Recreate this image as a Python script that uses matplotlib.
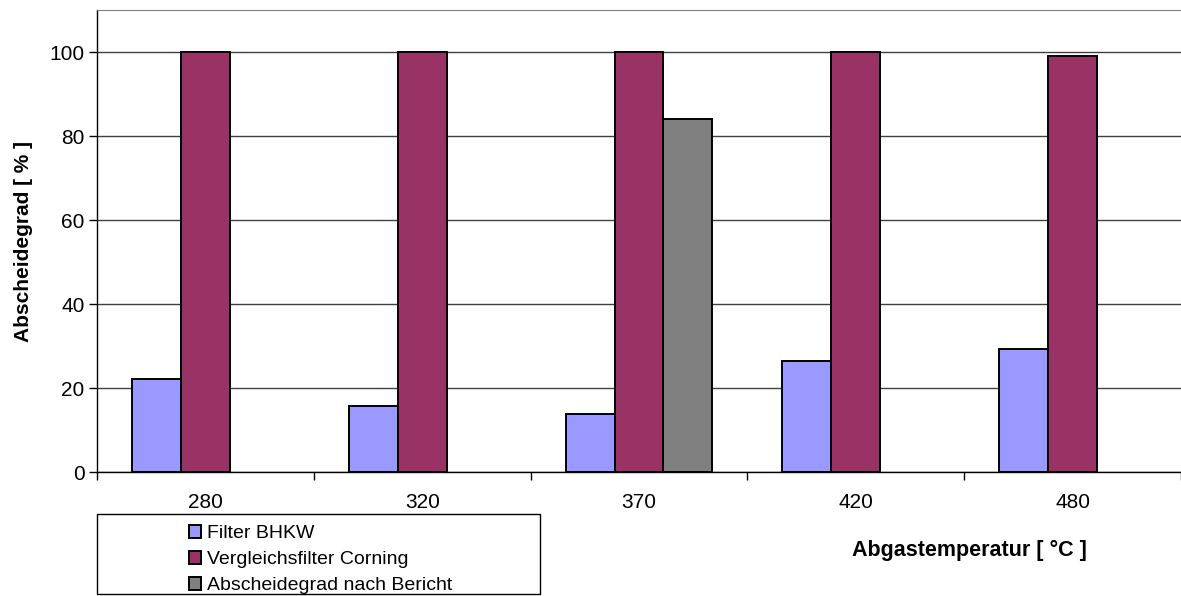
import numpy as np
import matplotlib
matplotlib.use("Agg")
import matplotlib.pyplot as plt
from matplotlib.patches import Rectangle

plt.rcParams['font.family'] = ['Liberation Sans', 'DejaVu Sans']

temperatures = ["280", "320", "370", "420", "480"]
filter_bhkw = [22.1, 15.7, 13.8, 26.4, 29.3]
corning = [100, 100, 100, 100, 99.0]
bericht = [np.nan, np.nan, 84.0, np.nan, np.nan]

series = [
    ("Filter BHKW", filter_bhkw, "#9999FF"),
    ("Vergleichsfilter Corning", corning, "#993366"),
    ("Abscheidegrad nach Bericht", bericht, "#808080"),
]

fig = plt.figure(figsize=(11.81, 5.96), dpi=100)
ax = fig.add_axes([97 / 1181, 1 - 472 / 596, 1084 / 1181, 462 / 596])

x = np.arange(len(temperatures))
width = 0.226
handles = []
for i, (label, values, color) in enumerate(series):
    b = ax.bar(x + (i - 1) * width, values, width, color=color,
               edgecolor="black", linewidth=1.4, label=label, zorder=3)
    handles.append(b)

ax.set_xlim(-0.5, len(temperatures) - 0.5)
ax.set_ylim(0, 110)
ax.set_yticks(range(0, 101, 20))
ax.yaxis.grid(True, color="#404040", linewidth=1)
ax.set_axisbelow(True)
ax.tick_params(axis="y", labelsize=15, length=6, width=1, direction="out", pad=3)

# category labels centred, tick marks on the category boundaries
ax.set_xticks(x)
ax.set_xticklabels(temperatures, fontsize=15)
ax.tick_params(axis="x", which="major", length=0, pad=15)
ax.set_xticks(np.arange(-0.5, len(temperatures)), minor=True)
ax.tick_params(axis="x", which="minor", length=6, width=1, direction="out")

ax.spines["right"].set_visible(False)
ax.spines["top"].set_color("#808080")
ax.spines["left"].set_linewidth(1)
ax.spines["bottom"].set_linewidth(1)

ax.set_ylabel("Abscheidegrad [ % ]", fontsize=15, fontweight="bold", labelpad=12)

fig.text(969 / 1181, 1 - 550 / 596, "Abgastemperatur [ °C ]", fontsize=15.5,
         fontweight="bold", ha="center", va="center")

# legend frame
fig.add_artist(Rectangle((97 / 1181, 2 / 596), 443 / 1181, 80 / 596,
                         transform=fig.transFigure, fill=False,
                         edgecolor="black", linewidth=1))
fig.legend(handles=handles, loc="upper left",
           bbox_to_anchor=(176 / 1181, 1 - 512 / 596), frameon=False,
           fontsize=14, handlelength=0.65, handleheight=0.65,
           handletextpad=0.3, labelspacing=0.45, borderpad=0.15)

fig.savefig("out.png", dpi=100)
